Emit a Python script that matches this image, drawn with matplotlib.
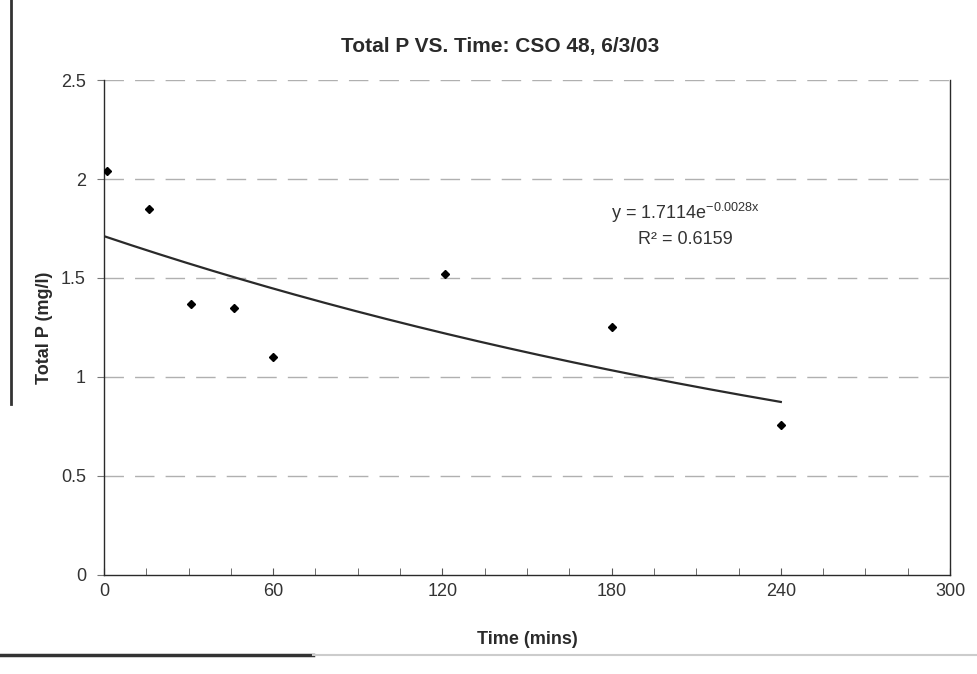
import numpy as np
import matplotlib
matplotlib.use("Agg")
import matplotlib.pyplot as plt
from matplotlib.lines import Line2D

plt.rcParams['font.family'] = ['Liberation Sans', 'DejaVu Sans']
plt.rcParams['mathtext.fontset'] = 'custom'
plt.rcParams['mathtext.rm'] = 'Liberation Sans'

# sample data
time_min = [1, 16, 31, 46, 60, 121, 180, 240]
total_p = [2.04, 1.85, 1.37, 1.35, 1.10, 1.52, 1.25, 0.76]

# exponential trendline coefficients (as printed on chart)
fit_a = 1.7114
fit_b = -0.0028
r_squared = 0.6159

x_ticks = [0, 60, 120, 180, 240, 300]
y_ticks = [0, 0.5, 1, 1.5, 2, 2.5]

ink = '#2a2a2a'

fig = plt.figure(figsize=(9.77, 6.74), dpi=100)
ax = fig.add_axes([0.1064, 0.1469, 0.866, 0.7344])

# gridlines
for yv in y_ticks[1:]:
    ax.axhline(yv, color='#b0b0b0', lw=1.0, ls=(0, (14, 8)), zorder=0)

# trendline
xf = np.linspace(0, max(time_min), 200)
ax.plot(xf, fit_a * np.exp(fit_b * xf), color=ink, lw=1.6, zorder=2)

# data points
ax.plot(time_min, total_p, ls='none', marker='D', ms=4, color='black', zorder=3)

ax.set_xlim(0, 300)
ax.set_ylim(0, 2.5)
ax.set_xticks(x_ticks)
ax.set_xticks(np.arange(0, 301, 15), minor=True)
ax.set_yticks(y_ticks)
ax.set_yticklabels(['0', '0.5', '1', '1.5', '2', '2.5'])

ax.spines['top'].set_visible(False)
for s in ['left', 'bottom', 'right']:
    ax.spines[s].set_color(ink)
    ax.spines[s].set_linewidth(1.0)

ax.tick_params(axis='x', which='both', direction='in', length=5, color='#555555',
               labelsize=13, labelcolor='#333333', pad=6)
ax.tick_params(axis='y', direction='out', length=5, color='#777777',
               labelsize=13, labelcolor='#333333', pad=8)

ax.set_xlabel('Time (mins)', fontsize=13, fontweight='bold', color=ink, labelpad=22)
ax.set_ylabel('Total P (mg/l)', fontsize=13, fontweight='bold', color=ink, labelpad=6)
fig.text(0.512, 0.931, 'Total P VS. Time: CSO 48, 6/3/03', ha='center', va='center',
         fontsize=15, fontweight='bold', color=ink)

ax.text(0.687, 0.731, r'y = 1.7114e$^{\mathregular{-0.0028x}}$', transform=ax.transAxes,
        ha='center', va='center', fontsize=13, color='#333333')
ax.text(0.687, 0.677, 'R² = %.4f' % r_squared, transform=ax.transAxes,
        ha='center', va='center', fontsize=13, color='#333333')

# scan edges
fig.add_artist(Line2D([0.011, 0.011], [1.0, 0.40], color='#333333', lw=2.0))
fig.add_artist(Line2D([0.0, 0.32], [0.028, 0.028], color='#333333', lw=2.5))
fig.add_artist(Line2D([0.32, 1.0], [0.028, 0.028], color='#cccccc', lw=1.5))

fig.savefig('out.png', dpi=100)
